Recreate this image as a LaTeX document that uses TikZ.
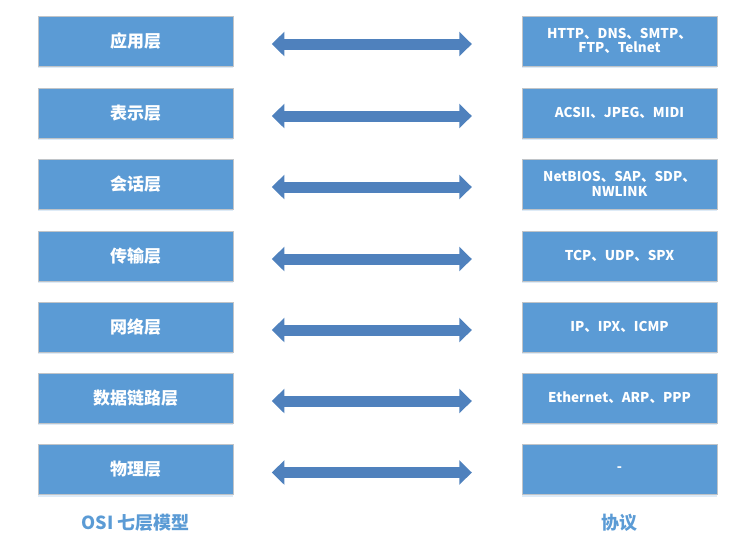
\documentclass[tikz,border=0pt]{standalone}
\usepackage{fontspec}
\setmainfont{Noto Sans CJK SC}
\usetikzlibrary{arrows.meta, positioning, calc, shadows}
\definecolor{boxblue}{HTML}{5B9BD5}
\definecolor{boxline}{HTML}{C0C4C8}
\definecolor{arrowblue}{HTML}{4F81BD}
\definecolor{arrowline}{HTML}{3B6CA3}

\begin{document}
\begin{tikzpicture}[x=1pt, y=-1pt,
    layer/.style={draw=boxline, fill=boxblue, minimum width=195pt, minimum height=50pt,
        inner sep=0pt, align=center, text=white,
        font=\bfseries\fontsize{17}{19}\selectfont,
        drop shadow={shadow xshift=0pt, shadow yshift=-2pt, opacity=0.2, fill=boxblue}},
    proto/.style={layer, font=\bfseries\fontsize{13.5}{14.5}\selectfont},
    biarrow/.style={line width=11pt, draw=arrowblue,
        {Triangle[width=24pt, length=12.5pt, fill=arrowblue]}-{Triangle[width=24pt, length=12.5pt, fill=arrowblue]},
        shorten <=38.7pt, shorten >=50pt},
    caption/.style={text=boxblue, font=\bfseries\fontsize{18}{20}\selectfont}]

    % Canvas
    \useasboundingbox (0,0) rectangle (743,542);

    % Layers, protocols and arrows
    \foreach \i/\y/\lay/\pro in {
        1/41/{应用层}/{HTTP、DNS、SMTP、\\FTP、Telnet},
        2/113/{表示层}/{ACSII、JPEG、MIDI},
        3/184/{会话层}/{NetBIOS、SAP、SDP、\\NWLINK},
        4/256/{传输层}/{TCP、UDP、SPX},
        5/327/{网络层}/{IP、IPX、ICMP},
        6/398/{数据链路层}/{Ethernet、ARP、PPP},
        7/469.5/{物理层}/{-}} {
        \node[layer] (l\i) at (135.5, \y) {\lay};
        \node[proto] (p\i) at (619.5, \y) {\pro};
        \draw[biarrow] ([yshift=-3pt]l\i.east) -- ([yshift=-3pt]p\i.west);
    }

    % Captions
    \node[caption] (osi) at (135.5, 523) {OSI 七层模型};
    \node[caption] (xieyi) at (619.5, 523) {协议};
\end{tikzpicture}
\end{document}
